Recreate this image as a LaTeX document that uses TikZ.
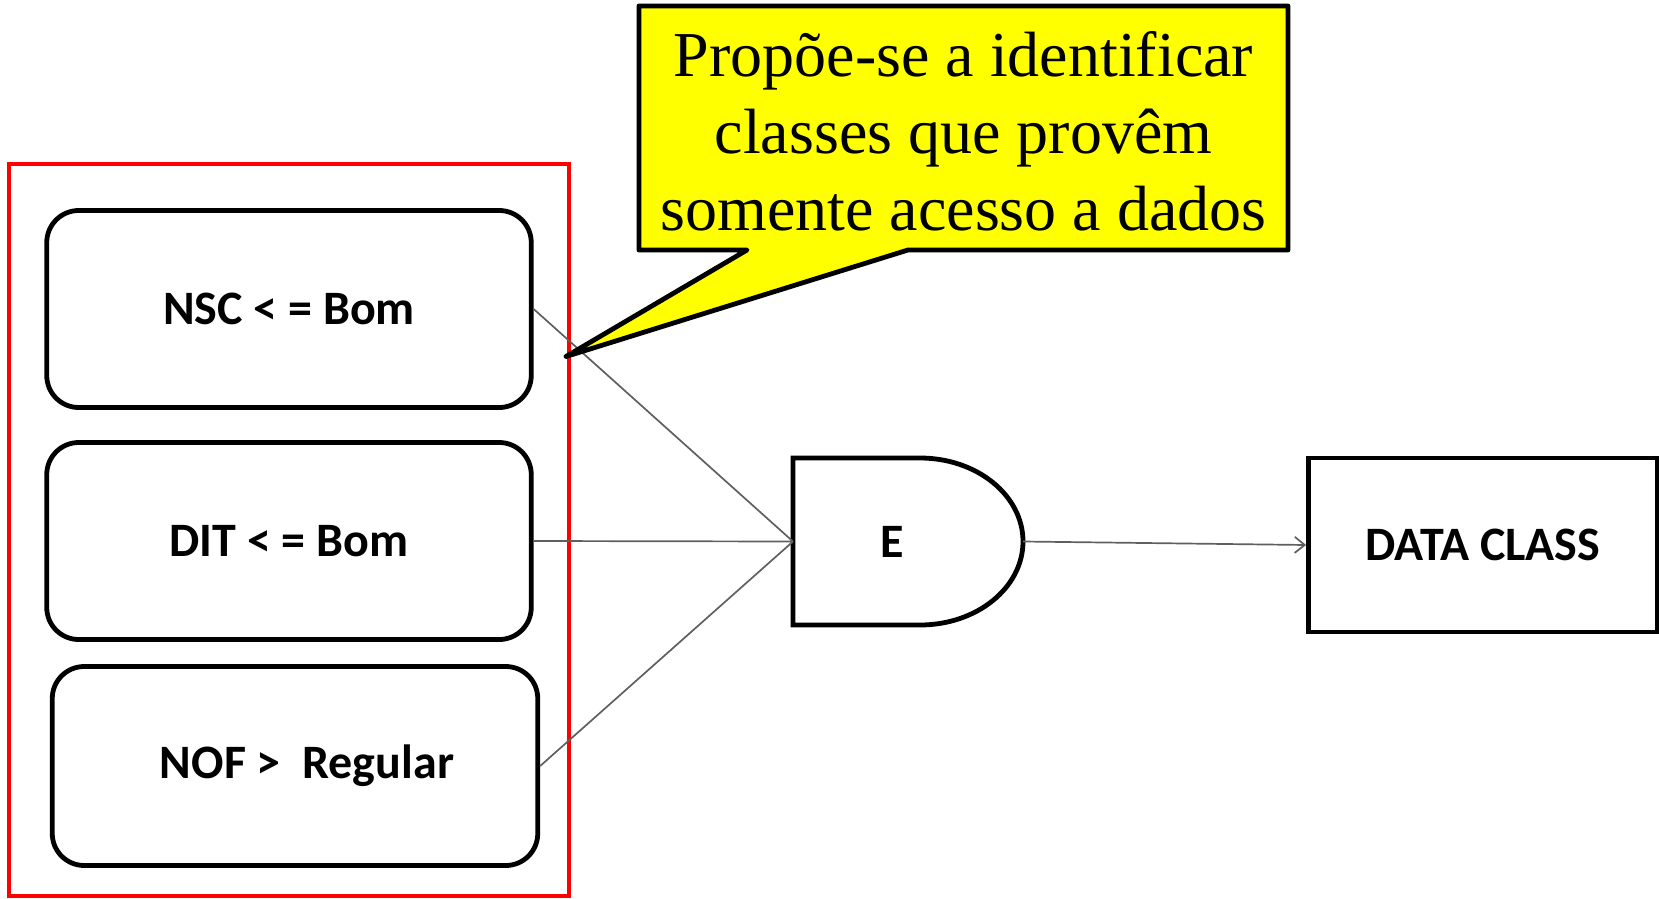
\documentclass[tikz,border=0pt]{standalone}
\usepackage{fontspec}
\newfontfamily\boxfont{Carlito}
\newfontfamily\notefont{Liberation Serif}
\usetikzlibrary{arrows.meta}
\definecolor{wiregray}{RGB}{95,95,95}
\definecolor{noteyellow}{RGB}{255,255,0}
\begin{document}
\begin{tikzpicture}[x=0.5pt,y=-0.5pt,
  cond/.style={draw, line width=2.4pt, rounded corners=16pt, minimum width=242.25pt,
    minimum height=98.5pt, inner sep=0pt, font=\boxfont\bfseries\fontsize{24}{28}\selectfont},
  outbox/.style={draw, line width=2.4pt, minimum width=174.5pt, minimum height=87pt,
    inner sep=0pt, font=\boxfont\bfseries\fontsize{24}{28}\selectfont},
  gatelabel/.style={inner sep=0pt, font=\boxfont\bfseries\fontsize{24}{28}\selectfont},
  wire/.style={draw=wiregray, line width=0.85pt},
  frame/.style={draw=red, line width=2pt, inner sep=0pt},
  notetext/.style={inner sep=0pt, align=center, font=\notefont\fontsize{32}{38.4}\selectfont},
  notebox/.style={draw, fill=noteyellow, line width=2.4pt, line join=round}]
\useasboundingbox (0,0) rectangle (1659,899);

% red grouping frame
\node[frame, minimum width=280pt, minimum height=366pt] (group) at (289,530) {};

% condition boxes
\node[cond] (nsc) at (289,309) {NSC < = Bom};
\node[cond] (dit) at (289,541) {DIT < = Bom};
\node[cond, minimum width=242.75pt, minimum height=99.5pt] (nof) at (295,766) {\hspace{12pt}NOF >\ \ Regular};

% AND gate
\coordinate (gin) at (793,541.5);
\coordinate (gout) at (1023,541.5);
\draw[line width=2.4pt, line join=miter] (920,458) -- (793,458) -- (793,625) -- (920,625)
  .. controls (977,625) and (1023,587.6) .. (gout)
  .. controls (1023,495.4) and (977,458) .. (920,458) -- cycle;
\node[gatelabel] (gate) at (892,541.5) {E};

% output box
\node[outbox] (dc) at (1483,545) {DATA CLASS};

% connectors
\draw[wire] (nsc.east) -- (gin);
\draw[wire] (dit.east) -- (gin);
\draw[wire] (nof.east) -- (gin);
\draw[wire, -{Straight Barb[length=5pt,width=8pt]}] (gout) -- (dc.west);

% callout
\coordinate (tip) at (566,356.5);
\draw[notebox] (639,6) -- (1288,6) -- (1288,250) -- (908,250) -- (tip) -- (747,250) -- (639,250) -- cycle;
\node[notetext] (note) at (963.5,131) {Propõe-se a identificar\\classes que provêm\\somente acesso a dados};
\end{tikzpicture}
\end{document}
